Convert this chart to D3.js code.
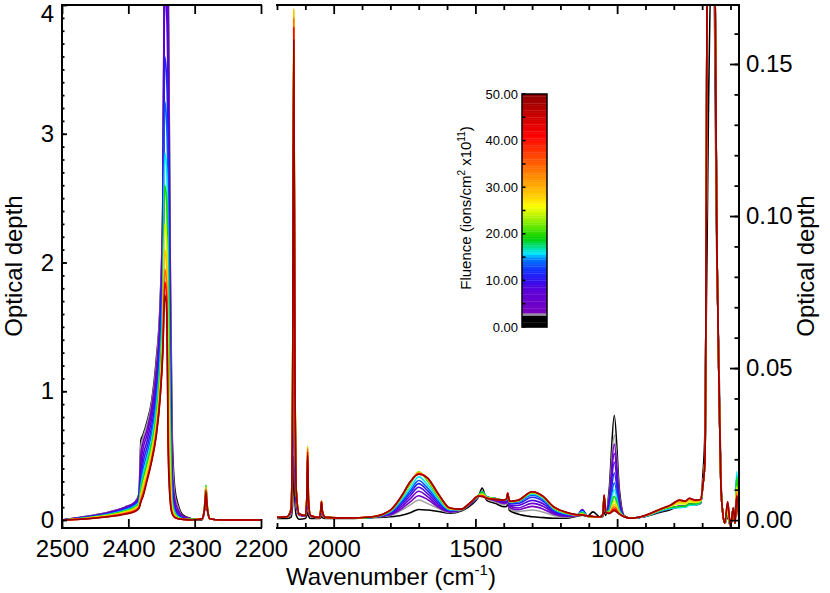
<!DOCTYPE html>
<html lang="en">
<head>
<meta charset="UTF-8">
<title>Optical depth vs wavenumber</title>
<script src="https://d3js.org/d3.v7.min.js"></script>
<style>
  body { margin: 0; background: #fff; }
  svg { display: block; font-family: "Liberation Sans", Arial, Helvetica, sans-serif; }
</style>
</head>
<body>
<svg id="chart" width="830" height="593"></svg>
<script>
// ---- data ----
// fluence of each spectrum (ions/cm^2 x 1e11), drawn low -> high
const fluences = [0, 2.7, 4, 6, 8.5, 11, 13.5, 16, 19.5, 24.5, 29, 34, 41, 49];

// left panel: wavenumbers and optical depth (left axis)
const leftWn = [2500, 2460, 2430, 2405, 2390, 2384, 2381, 2378, 2372, 2365,
  2358, 2352, 2348, 2345, 2342, 2340, 2337, 2334, 2330, 2325,
  2318, 2305, 2289, 2285, 2283, 2281, 2277, 2260, 2200];
const leftOD = [
  [0, .03, .06, .10, .14, .20, .62, .66, .76, .92, 1.24, 1.7, 2.5, 4.6, 4.6, 4.3, 2.1, .7, .25, .12, .04, .01, 0, .08, .20, .08, .01, 0, 0],
  [0, .03, .06, .10, .14, .19, .58, .64, .74, .90, 1.2, 1.68, 2.45, 4.6, 4.6, 4.2, 1.9, .55, .2, .1, .03, .01, .01, .08, .21, .08, .01, 0, 0],
  [0, .028, .058, .098, .138, .185, .52, .6, .7, .87, 1.16, 1.62, 2.4, 4.6, 4.5, 4.0, 1.7, .42, .16, .08, .03, .01, .01, .09, .22, .09, .01, 0, 0],
  [0, .027, .055, .095, .135, .18, .45, .55, .66, .83, 1.1, 1.56, 2.3, 4.5, 4.3, 3.7, 1.5, .33, .12, .06, .02, .01, .01, .09, .23, .09, .01, 0, 0],
  [0, .025, .052, .09, .13, .17, .38, .49, .61, .78, 1.04, 1.48, 2.2, 4.1, 3.9, 3.3, 1.3, .26, .1, .05, .02, .01, .01, .1, .24, .1, .01, 0, 0],
  [0, .023, .049, .085, .122, .16, .33, .44, .56, .72, .98, 1.4, 2.05, 3.6, 3.4, 2.9, 1.1, .22, .08, .04, .015, .005, .01, .1, .25, .1, .01, 0, 0],
  [0, .021, .046, .08, .115, .15, .29, .39, .51, .67, .92, 1.32, 1.9, 3.25, 3.05, 2.5, .95, .18, .07, .03, .01, .005, .01, .11, .26, .11, .01, 0, 0],
  [0, .02, .043, .075, .108, .14, .26, .35, .47, .62, .86, 1.24, 1.75, 2.85, 2.7, 2.1, .8, .15, .06, .025, .01, .005, .01, .11, .265, .11, .01, 0, 0],
  [0, .018, .04, .07, .1, .13, .23, .31, .43, .58, .8, 1.16, 1.62, 2.6, 2.45, 1.8, .65, .12, .05, .02, .01, .005, .01, .11, .27, .11, .01, 0, 0],
  [0, .016, .036, .064, .092, .12, .2, .27, .39, .54, .75, 1.08, 1.5, 2.3, 2.15, 1.4, .45, .1, .04, .015, .008, .003, .01, .11, .26, .11, .01, 0, 0],
  [0, .014, .032, .058, .084, .11, .18, .24, .35, .5, .71, 1.02, 1.42, 2.1, 1.95, 1.0, .3, .08, .03, .012, .006, .002, .01, .1, .25, .1, .01, 0, 0],
  [0, .012, .029, .052, .076, .1, .16, .21, .32, .47, .68, .98, 1.36, 1.95, 1.8, .75, .22, .06, .025, .01, .005, .002, .01, .1, .24, .1, .01, 0, 0],
  [0, .011, .027, .048, .07, .095, .15, .19, .31, .46, .66, .96, 1.32, 1.85, 1.7, .62, .17, .05, .02, .01, .005, .002, .01, .09, .23, .09, .01, 0, 0],
  [0, .01, .025, .045, .065, .09, .14, .18, .30, .45, .65, .95, 1.3, 1.75, 1.6, .55, .15, .05, .02, .01, .005, 0, .01, .09, .21, .09, .01, 0, 0]
];

// right panel: wavenumbers and optical depth x 1000 (right axis)
const rightWn = [2200, 2165, 2150, 2145, 2141, 2137, 2132, 2122, 2100, 2095,
  2092, 2089, 2082, 2050, 2046, 2043, 2040, 2030, 1950, 1870,
  1800, 1760, 1730, 1700, 1670, 1630, 1590, 1550, 1515, 1490,
  1476, 1460, 1430, 1400, 1390, 1386, 1380, 1350, 1300, 1260,
  1225, 1180, 1140, 1123, 1105, 1085, 1060, 1050, 1046, 1040,
  1028, 1010, 992, 975, 950, 900, 850, 810, 780, 760,
  745, 725, 705, 698, 690, 678, 662, 648, 640, 634,
  628, 620, 610, 600, 590, 584, 578, 570];
const rightOD = [
  [0.5, 0.5, 1, 5, 21, 7, 1.5, 0.3, 0.5, 1.5,
   4, 1.5, 0.5, 0.5, 0.8, 1.5, 0.8, 0.5, 0.5, 0.8,
   1.1, 1.6, 2.4, 3.5, 3.3, 2.8, 2.3, 3, 5, 7.5,
   10.5, 6.5, 5.5, 4.4, 4.5, 5.5, 3.2, 2, 1.1, 0.8,
   0.6, 0.6, 1.3, 1.6, 1.3, 2.7, 1, 1.2, 3, 1.5,
   10, 34.5, 10, 1.5, 0.6, 1.2, 2.5, 3.5, 4.5, 4.5,
   5, 5, 5.5, 14, 30, 133, 200, 85, 48, 15,
   3, -1, 1, -2, 4, -1, 10, 0],
  [0.8, 1, 2, 15, 60, 21, 4, 1.5, 1.2, 3,
   9, 3, 1.2, 0.8, 1.5, 3, 1.5, 0.8, 0.6, 0.9,
   1.5, 3.3, 5, 6.6, 5.5, 3.8, 2.5, 3.2, 5.5, 7.7,
   9.5, 7, 6, 5, 5.2, 6.5, 3.8, 2.8, 3.3, 2.6,
   1.5, 1, 1.4, 2.5, 1.3, 1.1, 1.1, 1.6, 6, 2.2,
   8, 28, 8, 1.4, 0.6, 1.3, 2.8, 3.8, 4.5, 4.6,
   5.2, 5.2, 5.8, 11, 20, 255, 255, 90, 42, 12,
   3, -1, 2, -2, 4, -1, 10, 0],
  [0.9, 1.1, 2.5, 21, 85, 30, 5.5, 1.7, 1.3, 4,
   12, 4, 1.3, 0.8, 2, 3.8, 2, 0.9, 0.6, 0.9,
   1.8, 3.8, 6, 8, 6.8, 4.2, 2.7, 3.3, 5.6, 7.8,
   9.4, 7.3, 6.4, 5.5, 5.6, 7, 4.2, 3.4, 4.5, 3.6,
   2, 1.2, 1.5, 3.2, 1.3, 1.1, 1.1, 1.7, 6.5, 2.3,
   7, 25, 7, 1.3, 0.6, 1.3, 3, 4, 4.5, 4.6,
   5.3, 5.3, 5.9, 11, 20, 255, 255, 90, 42, 12,
   3, -1, 2, -2, 4, -1, 11, 0],
  [0.9, 1.1, 3, 26, 105, 37, 6.5, 1.8, 1.4, 4.5,
   14, 4.5, 1.4, 0.8, 2.2, 4.5, 2.2, 0.9, 0.6, 0.9,
   2, 4.5, 7, 9.5, 7.8, 4.6, 2.8, 3.4, 5.7, 7.9,
   9.3, 7.5, 6.6, 5.8, 5.9, 7.5, 4.6, 4, 5.5, 4.5,
   2.4, 1.4, 1.6, 3.5, 1.3, 1.1, 1.1, 1.7, 7, 2.3,
   6.3, 22, 6.2, 1.3, 0.6, 1.3, 3, 4, 4.5, 4.6,
   5.3, 5.3, 5.9, 11, 20, 255, 255, 90, 42, 12,
   3, -1, 2, -2, 4, -1, 12, 0],
  [0.9, 1.1, 3.3, 31, 125, 44, 7.5, 1.9, 1.4, 5,
   16, 5, 1.4, 0.8, 2.4, 5, 2.4, 0.9, 0.6, 0.9,
   2.2, 5.2, 8, 10.8, 8.8, 5.2, 3, 3.5, 5.8, 8,
   9.2, 7.6, 6.9, 6.1, 6.2, 7.8, 5, 4.8, 6.5, 5.3,
   2.8, 1.6, 1.6, 3.4, 1.3, 1.1, 1.1, 1.8, 7.2, 2.4,
   5.3, 19, 5.2, 1.3, 0.6, 1.3, 3, 4, 4.4, 4.5,
   5.2, 5.2, 5.9, 11, 20, 255, 255, 90, 42, 12,
   3, -1, 2, -2, 4, -1, 13, 0],
  [0.9, 1.1, 3.5, 35, 140, 49, 8.5, 2, 1.5, 5.4,
   18, 5.4, 1.5, 0.8, 2.6, 5.3, 2.6, 0.9, 0.6, 0.9,
   2.4, 5.8, 8.9, 12, 9.8, 5.8, 3.2, 3.5, 5.9, 8,
   9.2, 7.6, 7.1, 6.4, 6.5, 8, 5.5, 5.5, 7.5, 6.1,
   3.2, 1.8, 1.6, 3.1, 1.3, 1.1, 1.1, 1.8, 7.4, 2.4,
   4.3, 15.5, 4.2, 1.2, 0.6, 1.3, 3, 3.9, 4.3, 4.4,
   5.1, 5.1, 5.9, 11, 20, 255, 255, 90, 42, 12,
   3, -1, 2, -2, 4, -1, 14, 0],
  [0.9, 1.1, 3.6, 37, 150, 52, 9, 2, 1.5, 5.8,
   19.5, 5.8, 1.5, 0.8, 2.7, 5.6, 2.7, 0.9, 0.6, 0.9,
   2.6, 6.3, 9.7, 13, 10.7, 6.3, 3.3, 3.5, 5.9, 8,
   9.2, 7.6, 7.1, 6.5, 6.6, 8.2, 5.8, 6, 8.2, 6.7,
   3.6, 2, 1.7, 2.9, 1.3, 1.1, 1.1, 1.8, 7.5, 2.4,
   3.6, 12.3, 3.5, 1.2, 0.6, 1.3, 3, 3.9, 4.2, 4.3,
   5, 5, 5.9, 11, 20, 255, 255, 90, 42, 12,
   3, -1, 2, -2, 4, -1, 15, 0],
  [0.9, 1.1, 3.7, 39, 157, 55, 9.4, 2, 1.5, 6.1,
   20.5, 6.1, 1.5, 0.8, 2.8, 5.8, 2.8, 0.9, 0.6, 0.9,
   2.8, 6.8, 10.5, 14.2, 11.7, 6.8, 3.4, 3.5, 5.9, 8,
   9.3, 7.6, 7.1, 6.6, 6.7, 8.3, 6, 6.2, 8.6, 7.1,
   3.8, 2.1, 1.7, 2.7, 1.3, 1.1, 1.1, 1.8, 7.6, 2.4,
   3.2, 10, 3.1, 1.2, 0.6, 1.3, 3, 3.9, 4.1, 4.2,
   4.9, 4.9, 5.9, 11, 20, 255, 255, 90, 42, 12,
   3, -1, 2, -2, 4, -1, 16, 0],
  [0.9, 1.1, 3.8, 40, 162, 57, 9.7, 2, 1.5, 6.6,
   22, 6.6, 1.5, 0.8, 2.9, 6, 2.9, 0.9, 0.6, 0.9,
   3, 7.5, 11.8, 15.9, 13, 7.5, 3.6, 3.5, 5.9, 8,
   9.3, 7.5, 7.1, 6.6, 6.8, 8.4, 6, 6.3, 8.9, 7.4,
   4, 2.3, 1.7, 2.4, 1.3, 1.1, 1.1, 1.8, 7.8, 2.4,
   2.8, 7.8, 2.7, 1.2, 0.6, 1.4, 3.2, 4.2, 4.5, 4.6,
   5.3, 5.3, 6.1, 11, 20, 255, 255, 90, 42, 12,
   3, -1, 2, -2, 4, -1, 14, 0],
  [0.9, 1.1, 3.9, 42, 167, 58, 10, 2, 1.5, 7.2,
   24, 7.2, 1.5, 0.8, 3, 6.3, 3, 0.9, 0.7, 1,
   3.1, 7.7, 12.2, 15.8, 13.5, 8, 3.7, 3.5, 6, 8,
   8.6, 7.4, 7, 6.6, 6.9, 8.6, 6.1, 6.4, 9.1, 7.5,
   4.2, 2.4, 1.7, 2, 1.3, 1.1, 1.1, 1.9, 8, 2.5,
   2.5, 6.3, 2.4, 1.2, 0.6, 1.4, 3.3, 4.6, 5.4, 5.3,
   6, 5.8, 6.3, 11, 20, 255, 255, 90, 42, 12,
   3, -1, 3, -2, 4, -1, 11, 0],
  [0.9, 1.1, 3.9, 42, 168, 58, 10, 2, 1.5, 7.3,
   24.3, 7.3, 1.5, 0.8, 3, 6.3, 3, 0.9, 0.7, 1,
   3.2, 7.8, 12.4, 15.6, 13.7, 8.2, 3.8, 3.5, 6, 8,
   8.2, 7.3, 6.9, 6.6, 6.9, 8.7, 6.1, 6.4, 9.2, 7.6,
   4.3, 2.5, 1.7, 1.9, 1.3, 1.1, 1.1, 1.9, 8.1, 2.5,
   2.3, 5.2, 2.2, 1.2, 0.6, 1.5, 3.4, 4.8, 6, 5.8,
   6.6, 6.2, 6.5, 11, 20, 255, 255, 90, 42, 12,
   3, -1, 4, -2, 4, -1, 10, 0],
  [0.9, 1.1, 3.8, 41, 165, 57, 9.9, 2, 1.5, 7.1,
   23.5, 7.1, 1.5, 0.8, 3, 6.2, 3, 0.9, 0.7, 1,
   3.2, 7.9, 12.5, 15.4, 13.8, 8.3, 3.9, 3.6, 6, 7.9,
   8.1, 7.3, 6.9, 6.6, 7, 8.8, 6.2, 6.5, 9.3, 7.7,
   4.4, 2.5, 1.7, 1.8, 1.4, 1.1, 1.1, 2, 8.1, 2.5,
   2.2, 4.4, 2.1, 1.2, 0.6, 1.5, 3.5, 4.9, 6.4, 6.1,
   7, 6.4, 6.7, 11, 20, 255, 255, 90, 42, 12,
   3, -1, 5, -2, 4, -1, 9, 0],
  [0.9, 1.1, 3.7, 40, 162, 56, 9.7, 2, 1.5, 6.8,
   22.5, 6.8, 1.5, 0.8, 3, 6.1, 3, 0.9, 0.7, 1,
   3.3, 8, 12.6, 15.2, 14, 8.5, 4, 3.6, 6, 7.9,
   7.9, 7.2, 6.8, 6.6, 7, 8.9, 6.2, 6.5, 9.3, 7.7,
   4.4, 2.6, 1.7, 1.7, 1.4, 1.2, 1.1, 2, 8.2, 2.5,
   2.2, 3.7, 2, 1.1, 0.6, 1.5, 3.5, 5, 6.6, 6.2,
   7.2, 6.6, 6.8, 11, 20, 255, 255, 90, 42, 12,
   3, -1, 6, -2, 4, -1, 8, 0],
  [0.9, 1.1, 3.6, 39, 158, 55, 9.5, 2, 1.5, 6.6,
   21.5, 6.6, 1.5, 0.8, 2.9, 6, 2.9, 0.9, 0.7, 1,
   3.3, 8, 12.6, 15.1, 14, 8.5, 4, 3.6, 6, 7.9,
   7.7, 7.2, 6.8, 6.6, 7, 8.9, 6.2, 6.5, 9.3, 7.7,
   4.4, 2.6, 1.8, 1.7, 1.4, 1.2, 1.1, 2, 8.2, 2.5,
   2.2, 3.1, 2, 1.1, 0.6, 1.6, 3.5, 5, 6.6, 6.2,
   7.2, 6.6, 6.8, 11, 20, 255, 255, 90, 42, 12,
   3, -1, 6, -2, 4, -1, 8, 0]
];

// colour table of the fluence bar
const cmapStops = [0, 2.4, 2.7, 3.2, 8, 10, 12.5, 14.5, 15.8, 17, 19, 21.5, 24, 26, 28, 31, 34, 37.5, 41, 45, 50];
const cmapColors = ["#000000", "#000000", "#a0a0a0", "#7800c0", "#5a00d8", "#3010f0", "#1038ff", "#0078ff",
  "#00e8ff", "#00e0a0", "#00d000", "#60e800", "#c0f400", "#ffff00", "#ffd000", "#ffa000", "#ff7000",
  "#ff3800", "#ff0000", "#d00000", "#8a0000"];
const cbarLabels = [0, 10, 20, 30, 40, 50];
const cbarTicks = [0, 5, 10, 15, 20, 25, 30, 35, 40, 45, 50];

// ---- drawing ----
const svg = d3.select("#chart");
const FS = 24;

const cmap = d3.scaleLinear().domain(cmapStops).range(cmapColors).interpolate(d3.interpolateRgb).clamp(true);

const xL = d3.scaleLinear().domain([2500, 2200]).range([62, 261]);
const yL = d3.scaleLinear().domain([-0.062, 4]).range([528, 5]);
const xR = d3.scaleLinear().domain([2200, 570]).range([277, 739]);
const yR = d3.scaleLinear().domain([-0.0026, 0.1694]).range([528, 5]);

const defs = svg.append("defs");
defs.append("clipPath").attr("id", "clipL").append("rect")
  .attr("x", 62).attr("y", 5).attr("width", 199).attr("height", 523);
defs.append("clipPath").attr("id", "clipR").append("rect")
  .attr("x", 277).attr("y", 5).attr("width", 462).attr("height", 523);

// spectra, left panel
const lineL = d3.line()
  .x((d, i) => xL(leftWn[i]))
  .y(d => yL(d))
  .curve(d3.curveMonotoneX);
svg.append("g").attr("clip-path", "url(#clipL)")
  .selectAll("path").data(leftOD).join("path")
  .attr("d", lineL)
  .attr("fill", "none")
  .attr("stroke", (d, i) => cmap(fluences[i]))
  .attr("stroke-width", 1.6)
  .attr("stroke-linejoin", "round");

// spectra, right panel
const lineR = d3.line()
  .x((d, i) => xR(rightWn[i]))
  .y(d => yR(d / 1000))
  .curve(d3.curveMonotoneX);
svg.append("g").attr("clip-path", "url(#clipR)")
  .selectAll("path").data(rightOD).join("path")
  .attr("d", lineR)
  .attr("fill", "none")
  .attr("stroke", (d, i) => cmap(fluences[i]))
  .attr("stroke-width", 1.6)
  .attr("stroke-linejoin", "round");

// frames
function frameLine(x1, y1, x2, y2) {
  svg.append("line").attr("x1", x1).attr("y1", y1).attr("x2", x2).attr("y2", y2)
    .attr("stroke", "#000").attr("stroke-width", 2).attr("stroke-linecap", "square");
}
frameLine(62, 5, 62, 528);
frameLine(62, 5, 261, 5);
frameLine(62, 528, 261, 528);
frameLine(277, 5, 739, 5);
frameLine(277, 528, 739, 528);
frameLine(739, 5, 739, 528);

function styleAxis(g) {
  g.select(".domain").remove();
  g.selectAll(".tick line").attr("stroke", "#000").attr("stroke-width", 1.8);
  g.selectAll(".tick text").attr("fill", "#000").attr("font-size", FS).attr("font-family", null);
}

// left panel axes
svg.append("g").attr("transform", "translate(0,528)")
  .call(d3.axisBottom(xL).tickValues([2500, 2400, 2300, 2200]).tickSize(-9).tickPadding(12).tickFormat(d3.format("d")))
  .call(styleAxis);
svg.append("g").attr("transform", "translate(0,5)")
  .call(d3.axisTop(xL).tickValues([2500, 2400, 2300, 2200]).tickSize(-9).tickFormat(""))
  .call(styleAxis);
svg.append("g").attr("transform", "translate(62,0)")
  .call(d3.axisLeft(yL).tickValues([0, 1, 2, 3, 4]).tickSize(-5).tickPadding(8).tickFormat(d3.format("d")))
  .call(styleAxis)
  .call(g => g.selectAll(".tick text").filter(d => d === 4).attr("dy", "0.7em"));
svg.append("g").attr("transform", "translate(62,0)")
  .call(d3.axisLeft(yL).tickValues(d3.range(0.1, 4, 0.1)).tickSize(-2.5).tickFormat(""))
  .call(styleAxis);

// right panel axes
const rMajor = [2000, 1500, 1000];
const rMinor = [2200, 2100, 1900, 1800, 1700, 1600, 1400, 1300, 1200, 1100, 900, 800, 700, 600];
svg.append("g").attr("transform", "translate(0,528)")
  .call(d3.axisBottom(xR).tickValues(rMajor).tickSize(-9).tickPadding(12).tickFormat(d3.format("d")))
  .call(styleAxis);
svg.append("g").attr("transform", "translate(0,528)")
  .call(d3.axisBottom(xR).tickValues(rMinor).tickSize(-5).tickFormat(""))
  .call(styleAxis);
svg.append("g").attr("transform", "translate(0,5)")
  .call(d3.axisTop(xR).tickValues(rMajor).tickSize(-9).tickFormat(""))
  .call(styleAxis);
svg.append("g").attr("transform", "translate(0,5)")
  .call(d3.axisTop(xR).tickValues(rMinor).tickSize(-5).tickFormat(""))
  .call(styleAxis);
svg.append("g").attr("transform", "translate(739,0)")
  .call(d3.axisRight(yR).tickValues([0, 0.05, 0.10, 0.15]).tickSize(-9).tickPadding(7).tickFormat(d3.format(".2f")))
  .call(styleAxis)
  .call(g => g.selectAll(".tick text").attr("text-anchor", "start"));
svg.append("g").attr("transform", "translate(739,0)")
  .call(d3.axisRight(yR).tickValues(d3.range(0.01, 0.17, 0.01)).tickSize(-4.5).tickFormat(""))
  .call(styleAxis);

// axis titles
svg.append("text")
  .attr("transform", "translate(22,266) rotate(-90)")
  .attr("text-anchor", "middle").attr("font-size", FS)
  .text("Optical depth");
svg.append("text")
  .attr("transform", "translate(814,266) rotate(-90)")
  .attr("text-anchor", "middle").attr("font-size", FS)
  .text("Optical depth");
const xt = svg.append("text")
  .attr("x", 391).attr("y", 585)
  .attr("text-anchor", "middle").attr("font-size", FS);
xt.append("tspan").text("Wavenumber (cm");
xt.append("tspan").attr("dy", -10).attr("font-size", 15).text("-1");
xt.append("tspan").attr("dy", 10).text(")");

// colour bar
const cbX = 522, cbW = 25;
const cbY = d3.scaleLinear().domain([0, 50]).range([327, 94]);
const cb = svg.append("g");
cb.selectAll("rect.band").data(d3.range(0, 50, 0.5)).join("rect")
  .attr("class", "band")
  .attr("x", cbX)
  .attr("y", d => cbY(d + 0.5))
  .attr("width", cbW)
  .attr("height", d => cbY(d) - cbY(d + 0.5) + 0.3)
  .attr("fill", d => cmap(d + 0.25));
cb.append("rect")
  .attr("x", cbX).attr("y", cbY(50)).attr("width", cbW).attr("height", cbY(0) - cbY(50))
  .attr("fill", "none").attr("stroke", "#000").attr("stroke-width", 1.5);
cb.selectAll("line.tk").data(cbarTicks).join("line")
  .attr("class", "tk")
  .attr("x1", cbX).attr("x2", cbX + 3.5)
  .attr("y1", d => cbY(d)).attr("y2", d => cbY(d))
  .attr("stroke", "#000").attr("stroke-width", 1.5);
cb.selectAll("text.lbl").data(cbarLabels).join("text")
  .attr("class", "lbl")
  .attr("x", cbX - 4)
  .attr("y", d => cbY(d))
  .attr("dy", "0.35em")
  .attr("text-anchor", "end")
  .attr("font-size", 13)
  .text(d3.format(".2f"));
const ct = cb.append("text")
  .attr("transform", "translate(471,208) rotate(-90)")
  .attr("text-anchor", "middle").attr("font-size", 15);
ct.append("tspan").text("Fluence (ions/cm");
ct.append("tspan").attr("dy", -6).attr("font-size", 10).text("2");
ct.append("tspan").attr("dy", 6).text(" x10");
ct.append("tspan").attr("dy", -6).attr("font-size", 10).text("11");
ct.append("tspan").attr("dy", 6).text(")");
</script>
</body>
</html>
